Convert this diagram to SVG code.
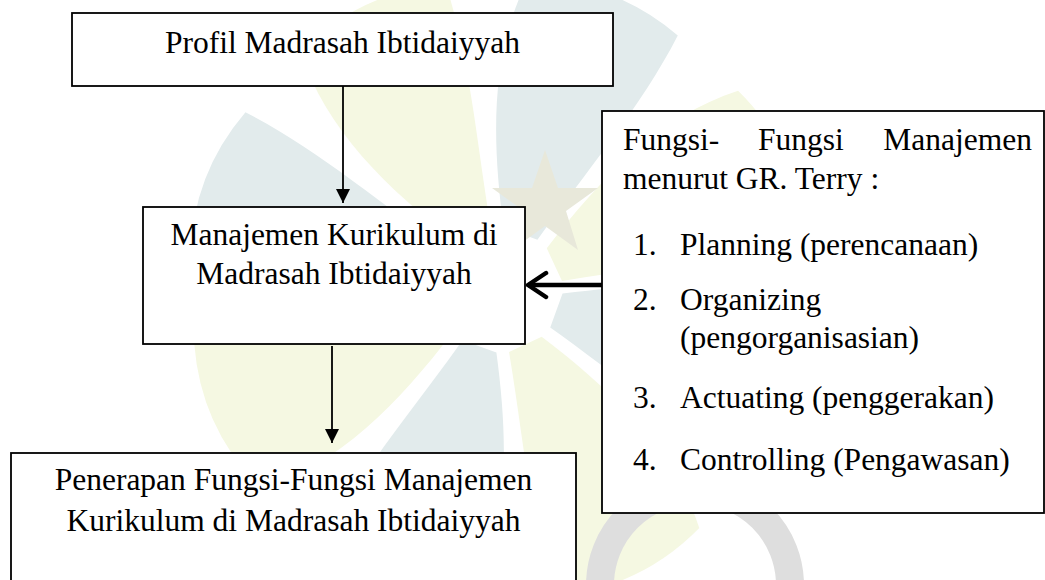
<svg xmlns="http://www.w3.org/2000/svg" width="1045" height="580" viewBox="0 0 1045 580">
<style>
.box{fill:#ffffff;stroke:#000000;stroke-width:1.8}
.t{font-size:31.5px;fill:#000000}
.c{text-anchor:middle}
.ln{stroke:#000000;stroke-width:1.8;fill:none}
.thick{stroke:#000000;stroke-width:4.5;fill:none}
.teal{fill:#e2ebec}
.yel{fill:#f5f8e2}
</style>
<defs>
<marker id="tri" markerUnits="userSpaceOnUse" markerWidth="14" markerHeight="14" refX="14" refY="7" orient="auto">
<path d="M0,0 L14,7 L0,14 Z" fill="#000000"/>
</marker>
<marker id="chev" markerUnits="userSpaceOnUse" markerWidth="26" markerHeight="30" refX="21" refY="15" orient="auto">
<path d="M3,3 L21,15 L3,27" fill="none" stroke="#000000" stroke-width="4.5" stroke-linecap="round" stroke-linejoin="round"/>
</marker>
<path id="petal" d="M-18,-60 C-60,-140 -90,-220 -80,-300 Q0,-330 80,-300 C70,-220 40,-140 18,-60 Z"/>
</defs>
<rect width="1045" height="580" fill="#ffffff"/>
<g id="watermark">
<use href="#petal" class="teal" transform="translate(500,290) rotate(20)"/>
<use href="#petal" class="yel" transform="translate(500,290) rotate(65)"/>
<use href="#petal" class="teal" transform="translate(500,290) rotate(110)"/>
<use href="#petal" class="yel" transform="translate(500,290) rotate(155)"/>
<use href="#petal" class="teal" transform="translate(500,290) rotate(200)"/>
<use href="#petal" class="yel" transform="translate(500,290) rotate(245)"/>
<use href="#petal" class="teal" transform="translate(500,290) rotate(290)"/>
<use href="#petal" class="yel" transform="translate(500,290) rotate(335)"/>
<polygon points="545,150 558,188 598,188 566,211 578,250 545,226 512,250 524,211 492,188 532,188" fill="#e8e8da"/>
<path d="M600,585 A95,95 0 0 1 790,585" fill="none" stroke="#dedede" stroke-width="28"/>
</g>
<g id="connectors">
<line class="ln" x1="343" y1="86" x2="343" y2="203" marker-end="url(#tri)"/>
<line class="ln" x1="332" y1="346" x2="332" y2="443" marker-end="url(#tri)"/>
<line class="thick" x1="602" y1="285" x2="528" y2="285" marker-end="url(#chev)"/>
</g>
<g font-family="'Liberation Serif', 'Times New Roman', Times, serif">
<g id="node-profil">
<rect class="box" x="72" y="13" width="541" height="73"/>
<text class="t c" x="342.5" y="53">Profil Madrasah Ibtidaiyyah</text>
</g>
<g id="node-manajemen">
<rect class="box" x="143" y="207" width="382" height="137"/>
<text class="t c" x="334" y="245">Manajemen Kurikulum di</text>
<text class="t c" x="334" y="284">Madrasah Ibtidaiyyah</text>
</g>
<g id="node-penerapan">
<rect class="box" x="11" y="453" width="565" height="140"/>
<text class="t c" x="293.5" y="490">Penerapan Fungsi-Fungsi Manajemen</text>
<text class="t c" x="293.5" y="531">Kurikulum di Madrasah Ibtidaiyyah</text>
</g>
<g id="node-fungsi">
<rect class="box" x="602" y="111" width="442" height="402"/>
<text class="t" x="623" y="150">Fungsi-</text>
<text class="t" x="758" y="150">Fungsi</text>
<text class="t" x="1032" y="150" text-anchor="end">Manajemen</text>
<text class="t" x="623" y="189">menurut GR. Terry :</text>
<text class="t" x="633" y="255">1.</text>
<text class="t" x="680" y="255">Planning (perencanaan)</text>
<text class="t" x="633" y="310">2.</text>
<text class="t" x="680" y="310">Organizing</text>
<text class="t" x="680" y="348">(pengorganisasian)</text>
<text class="t" x="633" y="408">3.</text>
<text class="t" x="680" y="408">Actuating (penggerakan)</text>
<text class="t" x="633" y="470">4.</text>
<text class="t" x="680" y="470">Controlling (Pengawasan)</text>
</g>
</g>
</svg>
